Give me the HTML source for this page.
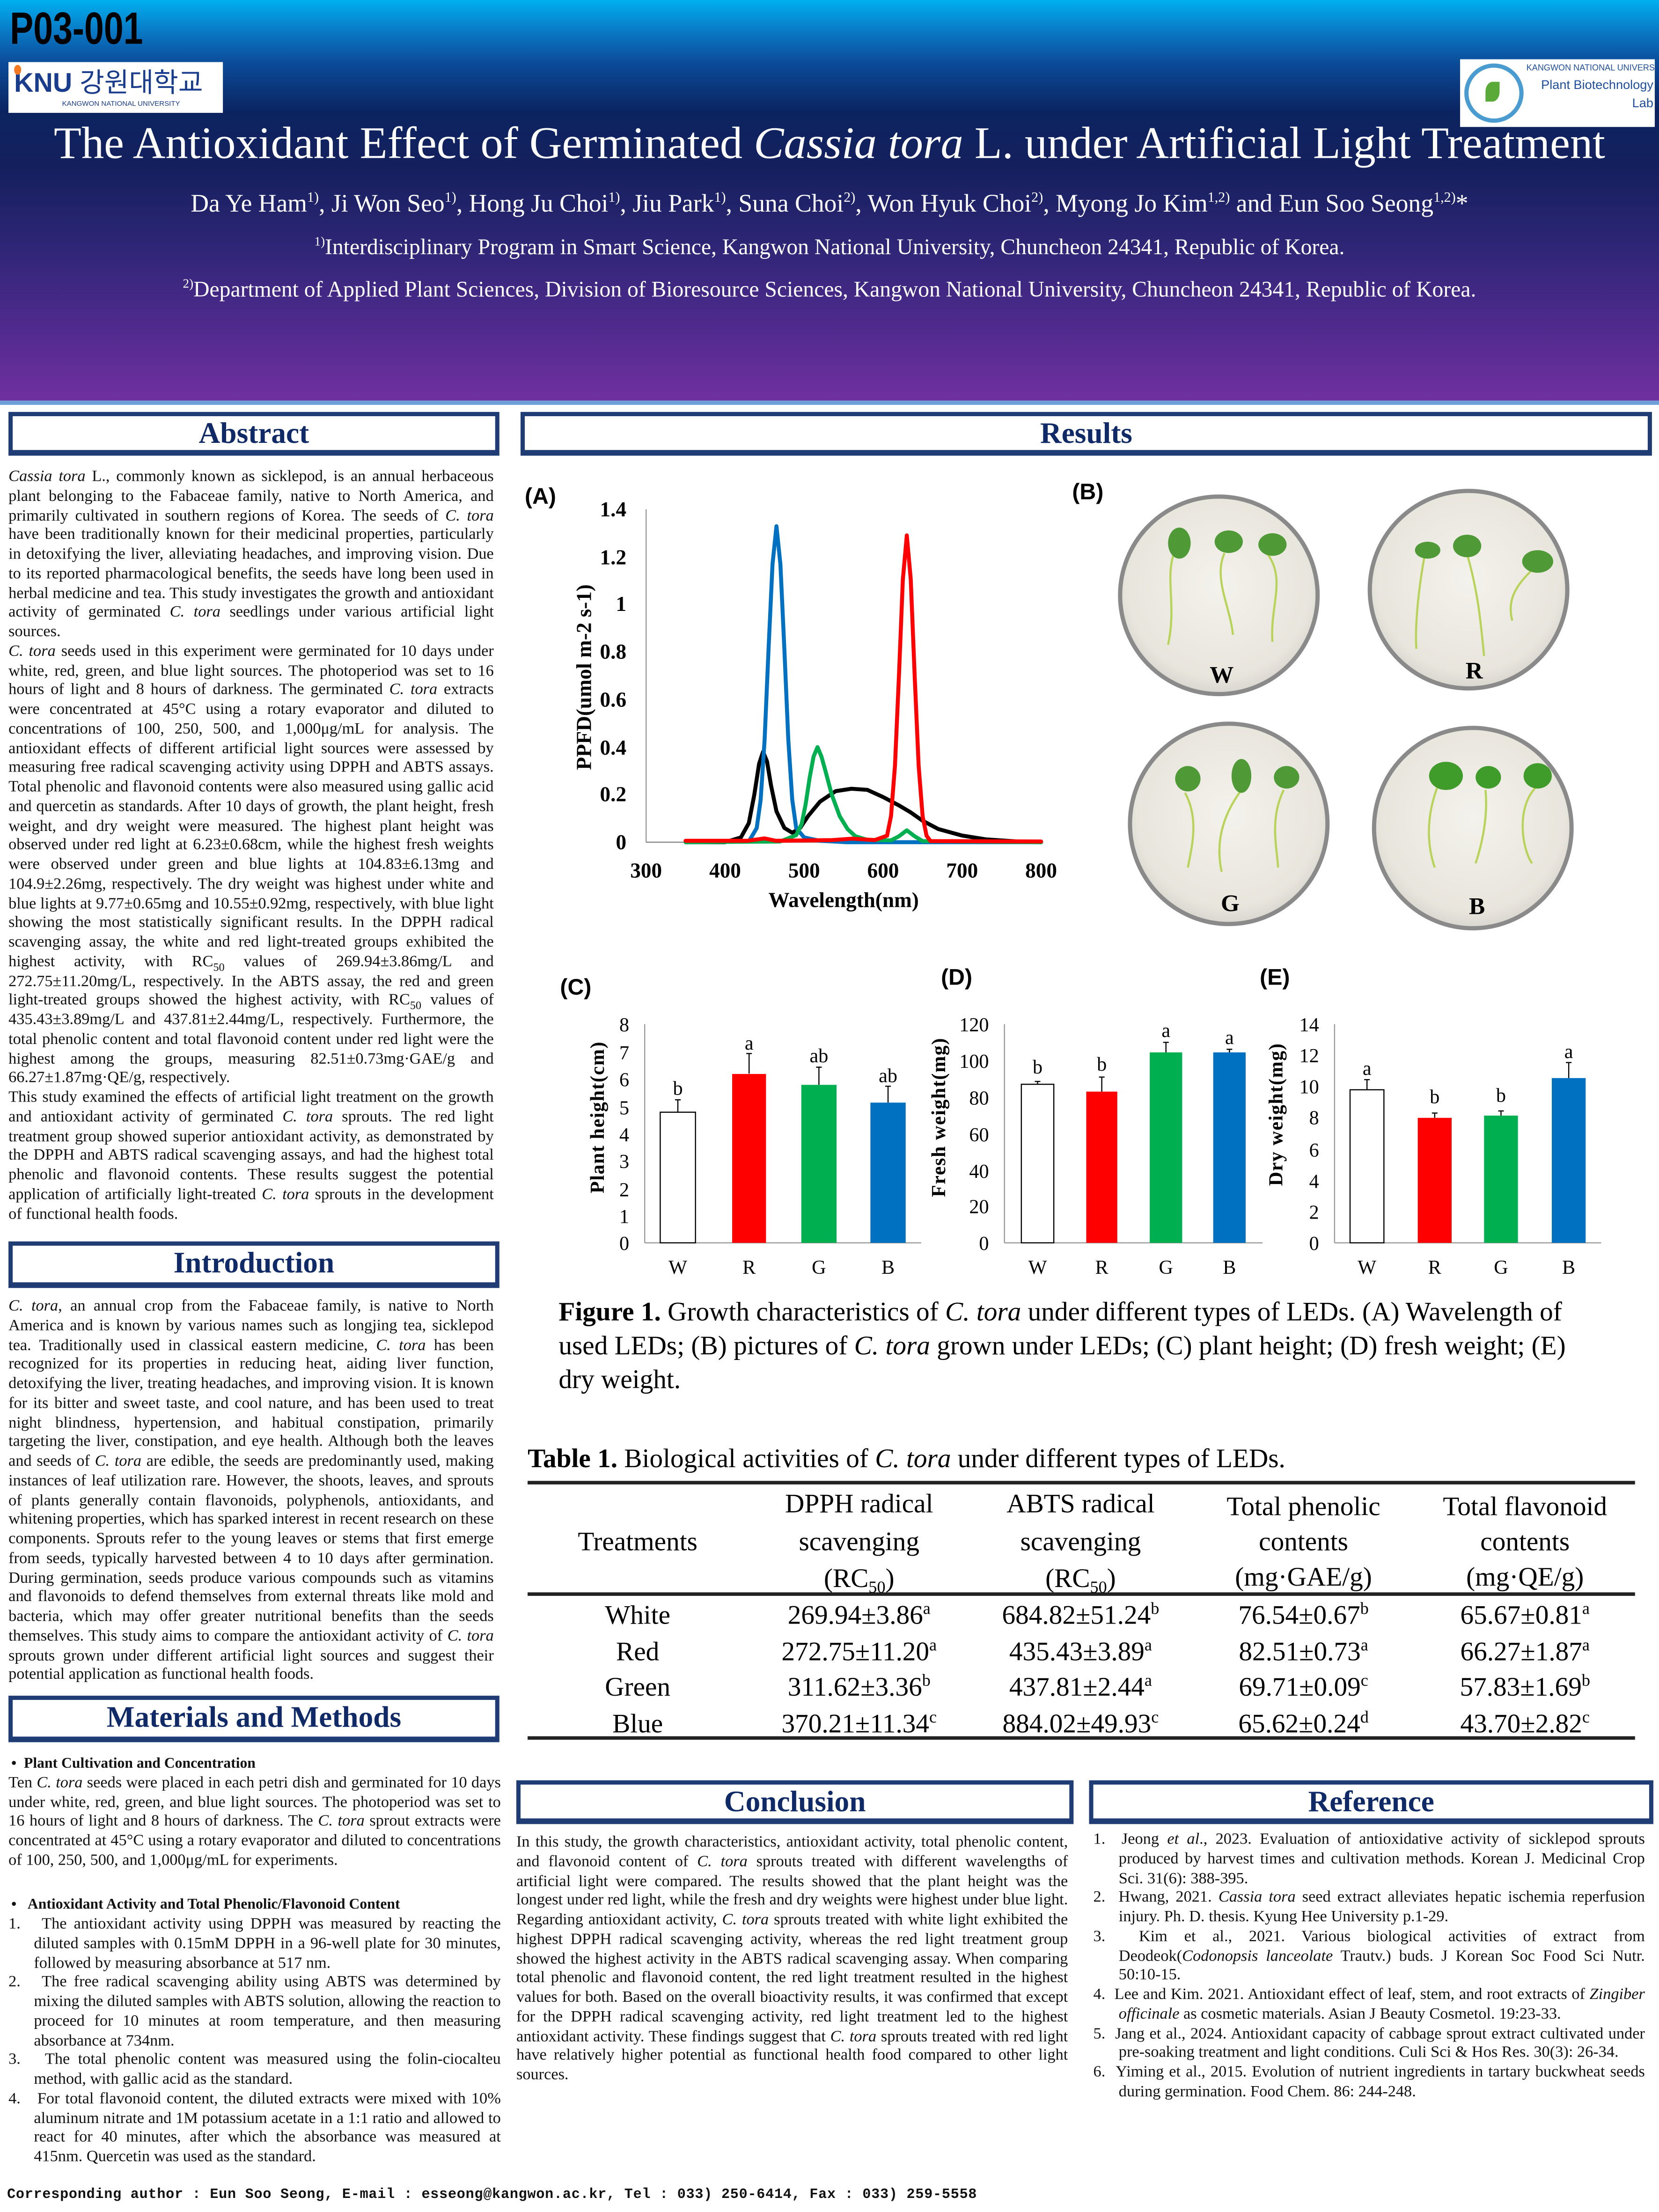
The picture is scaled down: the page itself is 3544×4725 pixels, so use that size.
<!DOCTYPE html>
<html><head><meta charset="utf-8">
<style>
*{margin:0;padding:0;box-sizing:border-box}
html,body{width:3544px;height:4725px;overflow:hidden;background:#fff}
#pg{position:absolute;left:0;top:0;width:1176px;height:1568px;transform:scale(3.01361,3.01339);transform-origin:0 0;font-family:"Liberation Serif",serif;color:#111}
.abs{position:absolute}
.hdr{position:absolute;left:0;top:0;width:1176px;height:287px;background:linear-gradient(to bottom,#00b0f0 0%,#0a78c4 8%,#0b4a98 16%,#0b2460 28%,#15205e 42%,#2c2574 60%,#4d2a8c 80%,#7030a0 100%);border-bottom:3px solid #6f9fd8}
.box{position:absolute;background:#fff;border:3px solid #1f3c74;border-bottom-width:4px;text-align:center;font-weight:bold;color:#0f2a66;font-size:21px;line-height:24px}
.txt{position:absolute;font-size:11.4px;line-height:13.75px;text-align:justify}
.txt p{margin:0}
.ref{padding-left:18px;text-indent:-18px}
</style></head><body>
<div id="pg">
<div class="hdr"></div>
<div class="abs" style="left:7px;top:2px;font-family:'Liberation Sans',sans-serif;font-weight:bold;font-size:32px;line-height:36px;color:#000;transform:scaleX(0.78);transform-origin:0 0">P03-001</div>
<div class="abs" style="left:6px;top:44px;width:152px;height:36px;background:#fff"></div>
<div class="abs" style="left:10px;top:49px;font-family:'Liberation Sans','Noto Sans CJK KR',sans-serif;font-weight:bold;font-size:19px;color:#1a3c8c;line-height:22px">KNU <span style="font-weight:normal">강원대학교</span></div>
<div class="abs" style="left:10px;top:46px;width:5px;height:7px;background:#f47920;border-radius:50%"></div>
<div class="abs" style="left:44px;top:71px;font-family:'Liberation Sans',sans-serif;font-size:5px;color:#1a3c8c">KANGWON NATIONAL UNIVERSITY</div>
<div class="abs" style="left:1035px;top:42px;width:138px;height:48px;background:#fff"></div>
<div class="abs" style="left:1038px;top:45px;width:42px;height:42px;border:3px solid #4a9cd0;border-radius:50%"></div>
<div class="abs" style="left:1053px;top:58px;width:10px;height:14px;background:#5aaa3a;border-radius:50% 0"></div>
<div class="abs" style="left:1082px;top:45px;width:90px;text-align:right;font-family:'Liberation Sans',sans-serif;color:#1f4e9c;line-height:13px;font-size:9px;white-space:nowrap"><div style="font-size:6px;line-height:9px">KANGWON NATIONAL UNIVERSITY</div><div>Plant Biotechnology</div><div>Lab</div></div>
<div class="abs" style="left:0;top:83px;width:1176px;text-align:center;color:#fff;font-size:32px;white-space:nowrap;line-height:36px">The Antioxidant Effect of Germinated <i>Cassia tora</i> L. under Artificial Light Treatment</div>
<div class="abs" style="left:0;top:134px;width:1176px;text-align:center;color:#fff;font-size:17.8px;white-space:nowrap">Da Ye Ham<sup style="font-size:10px">1)</sup>, Ji Won Seo<sup style="font-size:10px">1)</sup>, Hong Ju Choi<sup style="font-size:10px">1)</sup>, Jiu Park<sup style="font-size:10px">1)</sup>, Suna Choi<sup style="font-size:10px">2)</sup>, Won Hyuk Choi<sup style="font-size:10px">2)</sup>, Myong Jo Kim<sup style="font-size:10px">1,2)</sup> and Eun Soo Seong<sup style="font-size:10px">1,2)</sup>*</div>
<div class="abs" style="left:0;top:166px;width:1176px;text-align:center;color:#fff;font-size:15.8px;white-space:nowrap"><sup style="font-size:9px">1)</sup>Interdisciplinary Program in Smart Science, Kangwon National University, Chuncheon 24341, Republic of Korea.</div>
<div class="abs" style="left:0;top:196px;width:1176px;text-align:center;color:#fff;font-size:15.8px;white-space:nowrap"><sup style="font-size:9px">2)</sup>Department of Applied Plant Sciences, Division of Bioresource Sciences, Kangwon National University, Chuncheon 24341, Republic of Korea.</div>

<div class="box" style="left:6px;top:292px;width:348px;height:31px">Abstract</div>
<div class="box" style="left:369px;top:292px;width:802px;height:31px">Results</div>
<div class="box" style="left:6px;top:880px;width:348px;height:33px">Introduction</div>
<div class="box" style="left:6px;top:1202px;width:348px;height:33px">Materials and Methods</div>
<div class="box" style="left:366px;top:1262px;width:395px;height:31px">Conclusion</div>
<div class="box" style="left:772px;top:1262px;width:400px;height:31px">Reference</div>

<div class="txt" style="left:6px;top:332px;width:344px">
<p><i>Cassia tora</i> L., commonly known as sicklepod, is an annual herbaceous plant belonging to the Fabaceae family, native to North America, and primarily cultivated in southern regions of Korea. The seeds of <i>C. tora</i> have been traditionally known for their medicinal properties, particularly in detoxifying the liver, alleviating headaches, and improving vision. Due to its reported pharmacological benefits, the seeds have long been used in herbal medicine and tea. This study investigates the growth and antioxidant activity of germinated <i>C. tora</i> seedlings under various artificial light sources.</p>
<p><i>C. tora</i> seeds used in this experiment were germinated for 10 days under white, red, green, and blue light sources. The photoperiod was set to 16 hours of light and 8 hours of darkness. The germinated <i>C. tora</i> extracts were concentrated at 45°C using a rotary evaporator and diluted to concentrations of 100, 250, 500, and 1,000μg/mL for analysis. The antioxidant effects of different artificial light sources were assessed by measuring free radical scavenging activity using DPPH and ABTS assays. Total phenolic and flavonoid contents were also measured using gallic acid and quercetin as standards. After 10 days of growth, the plant height, fresh weight, and dry weight were measured. The highest plant height was observed under red light at 6.23±0.68cm, while the highest fresh weights were observed under green and blue lights at 104.83±6.13mg and 104.9±2.26mg, respectively. The dry weight was highest under white and blue lights at 9.77±0.65mg and 10.55±0.92mg, respectively, with blue light showing the most statistically significant results. In the DPPH radical scavenging assay, the white and red light-treated groups exhibited the highest activity, with RC<sub style="font-size:8px;line-height:0">50</sub> values of 269.94±3.86mg/L and 272.75±11.20mg/L, respectively. In the ABTS assay, the red and green light-treated groups showed the highest activity, with RC<sub style="font-size:8px;line-height:0">50</sub> values of 435.43±3.89mg/L and 437.81±2.44mg/L, respectively. Furthermore, the total phenolic content and total flavonoid content under red light were the highest among the groups, measuring 82.51±0.73mg·GAE/g and 66.27±1.87mg·QE/g, respectively.</p>
<p>This study examined the effects of artificial light treatment on the growth and antioxidant activity of germinated <i>C. tora</i> sprouts. The red light treatment group showed superior antioxidant activity, as demonstrated by the DPPH and ABTS radical scavenging assays, and had the highest total phenolic and flavonoid contents. These results suggest the potential application of artificially light-treated <i>C. tora</i> sprouts in the development of functional health foods.</p>
</div>

<div class="txt" style="left:6px;top:920px;width:344px">
<p><i>C. tora</i>, an annual crop from the Fabaceae family, is native to North America and is known by various names such as longjing tea, sicklepod tea. Traditionally used in classical eastern medicine, <i>C. tora</i> has been recognized for its properties in reducing heat, aiding liver function, detoxifying the liver, treating headaches, and improving vision. It is known for its bitter and sweet taste, and cool nature, and has been used to treat night blindness, hypertension, and habitual constipation, primarily targeting the liver, constipation, and eye health. Although both the leaves and seeds of <i>C. tora</i> are edible, the seeds are predominantly used, making instances of leaf utilization rare. However, the shoots, leaves, and sprouts of plants generally contain flavonoids, polyphenols, antioxidants, and whitening properties, which has sparked interest in recent research on these components. Sprouts refer to the young leaves or stems that first emerge from seeds, typically harvested between 4 to 10 days after germination. During germination, seeds produce various compounds such as vitamins and flavonoids to defend themselves from external threats like mold and bacteria, which may offer greater nutritional benefits than the seeds themselves. This study aims to compare the antioxidant activity of <i>C. tora</i> sprouts grown under different artificial light sources and suggest their potential application as functional health foods.</p>
</div>

<div class="txt" style="left:6px;top:1244px;width:349px">
<p style="font-weight:bold;padding-left:2px;font-size:10.5px">•&nbsp;&nbsp;Plant Cultivation and Concentration</p>
<p>Ten <i>C. tora</i> seeds were placed in each petri dish and germinated for 10 days under white, red, green, and blue light sources. The photoperiod was set to 16 hours of light and 8 hours of darkness. The <i>C. tora</i> sprout extracts were concentrated at 45°C using a rotary evaporator and diluted to concentrations of 100, 250, 500, and 1,000μg/mL for experiments.</p>
<p>&nbsp;</p>
<p style="font-weight:bold;padding-left:2px;font-size:10.5px;margin-top:4px">•&nbsp;&nbsp;&nbsp;Antioxidant Activity and Total Phenolic/Flavonoid Content</p>
<p class="ref">1.&nbsp;&nbsp;&nbsp;The antioxidant activity using DPPH was measured by reacting the diluted samples with 0.15mM DPPH in a 96-well plate for 30 minutes, followed by measuring absorbance at 517 nm.</p>
<p class="ref">2.&nbsp;&nbsp;&nbsp;The free radical scavenging ability using ABTS was determined by mixing the diluted samples with ABTS solution, allowing the reaction to proceed for 10 minutes at room temperature, and then measuring absorbance at 734nm.</p>
<p class="ref">3.&nbsp;&nbsp;&nbsp;The total phenolic content was measured using the folin-ciocalteu method, with gallic acid as the standard.</p>
<p class="ref">4.&nbsp;&nbsp;&nbsp;For total flavonoid content, the diluted extracts were mixed with 10% aluminum nitrate and 1M potassium acetate in a 1:1 ratio and allowed to react for 40 minutes, after which the absorbance was measured at 415nm. Quercetin was used as the standard.</p>
</div>

<div class="txt" style="left:366px;top:1300px;width:391px">
<p>In this study, the growth characteristics, antioxidant activity, total phenolic content, and flavonoid content of <i>C. tora</i> sprouts treated with different wavelengths of artificial light were compared. The results showed that the plant height was the longest under red light, while the fresh and dry weights were highest under blue light. Regarding antioxidant activity, <i>C. tora</i> sprouts treated with white light exhibited the highest DPPH radical scavenging activity, whereas the red light treatment group showed the highest activity in the ABTS radical scavenging assay. When comparing total phenolic and flavonoid content, the red light treatment resulted in the highest values for both. Based on the overall bioactivity results, it was confirmed that except for the DPPH radical scavenging activity, red light treatment led to the highest antioxidant activity. These findings suggest that <i>C. tora</i> sprouts treated with red light have relatively higher potential as functional health food compared to other light sources.</p>
</div>

<div class="txt" style="left:775px;top:1298px;width:391px">
<p class="ref">1.&nbsp;&nbsp;Jeong <i>et al</i>., 2023. Evaluation of antioxidative activity of sicklepod sprouts produced by harvest times and cultivation methods. Korean J. Medicinal Crop Sci. 31(6): 388-395.</p>
<p class="ref">2.&nbsp;&nbsp;Hwang, 2021. <i>Cassia tora</i> seed extract alleviates hepatic ischemia reperfusion injury. Ph. D. thesis. Kyung Hee University p.1-29.</p>
<p class="ref">3.&nbsp;&nbsp;Kim et al., 2021. Various biological activities of extract from Deodeok(<i>Codonopsis lanceolate</i> Trautv.) buds. J Korean Soc Food Sci Nutr. 50:10-15.</p>
<p class="ref">4.&nbsp;&nbsp;Lee and Kim. 2021. Antioxidant effect of leaf, stem, and root extracts of <i>Zingiber officinale</i> as cosmetic materials. Asian J Beauty Cosmetol. 19:23-33.</p>
<p class="ref">5.&nbsp;&nbsp;Jang et al., 2024. Antioxidant capacity of cabbage sprout extract cultivated under pre-soaking treatment and light conditions. Culi Sci &amp; Hos Res. 30(3): 26-34.</p>
<p class="ref">6.&nbsp;&nbsp;Yiming et al., 2015. Evolution of nutrient ingredients in tartary buckwheat seeds during germination. Food Chem. 86: 244-248.</p>
</div>

<div class="abs" style="left:5px;top:1551px;font-family:'Liberation Mono',monospace;font-weight:bold;font-size:10px;letter-spacing:0.25px;white-space:nowrap">Corresponding author : Eun Soo Seong, E-mail : esseong@kangwon.ac.kr, Tel : 033) 250-6414, Fax : 033) 259-5558</div>

<svg class="abs" style="left:0;top:0" width="1176" height="1568" viewBox="0 0 1176 1568" font-family="Liberation Serif, serif">
<defs><radialGradient id="pl" cx="50%" cy="45%" r="55%"><stop offset="0" stop-color="#f4f2ec"/><stop offset="0.85" stop-color="#e8e5dd"/><stop offset="1" stop-color="#d9d6cf"/></radialGradient></defs>
<text x="372" y="357" font-family="Liberation Sans, sans-serif" font-weight="bold" font-size="16">(A)</text>
<line x1="458" y1="361" x2="458" y2="597" stroke="#999" stroke-width="0.8"/>
<line x1="458" y1="597" x2="738" y2="597" stroke="#888" stroke-width="0.8"/>
<g font-weight="bold" font-size="15" text-anchor="end">
<text x="444" y="602">0</text><text x="444" y="568">0.2</text><text x="444" y="535">0.4</text><text x="444" y="501">0.6</text><text x="444" y="467">0.8</text><text x="444" y="433">1</text><text x="444" y="400">1.2</text><text x="444" y="366">1.4</text></g>
<g font-weight="bold" font-size="15" text-anchor="middle">
<text x="458" y="622">300</text><text x="514" y="622">400</text><text x="570" y="622">500</text><text x="626" y="622">600</text><text x="682" y="622">700</text><text x="738" y="622">800</text></g>
<text x="598" y="643" font-weight="bold" font-size="15" text-anchor="middle">Wavelength(nm)</text>
<text transform="translate(419,480) rotate(-90)" font-weight="bold" font-size="15" text-anchor="middle">PPFD(umol m-2 s-1)</text>
<g fill="none" stroke-width="2.8" stroke-linejoin="round" stroke-linecap="round">
<polyline stroke="#000" points="486,597 514,597 525.2,593.6 530.8,583.5 534.7,563.3 538.1,541.4 540.9,532.9 543.7,539.7 546.5,556.5 550.4,575.1 556,586.9 561.6,590.3 567.2,586.9 572.8,578.5 581.2,568.3 592.4,560.8 603.6,559.1 614.8,559.9 626,565 637.2,570.9 645.6,575.9 654,581.8 665.2,587.7 682,592.3 698.8,595 721.2,596.5 738,597"/>
<polyline stroke="#0070c0" points="486,597 530.8,596.5 536.4,587 539.2,567 542,524.5 544.8,460 547.6,400 550.4,373 553.2,400 556,460 558.8,524.5 561.6,567 564.4,587 570,593.6 581.2,596 600,597 738,597"/>
<polyline stroke="#00b050" points="486,597 553,596.5 564.4,592 568.3,584 571.1,570 573.9,551.5 576.7,536.3 579.5,529.6 582.3,536.3 585.1,546.4 589.6,563.3 595.2,578.5 600.8,587.7 606.4,592.8 614.8,595.3 631.6,595.7 637.2,592.8 642.8,588.6 648.4,592.8 654,596.2 738,597"/>
<polyline stroke="#ff0000" points="486,596 530,596 542,594.3 550,596 590,595.5 604,594.5 620,595.5 628.8,592.4 631.6,578.5 634.4,543 637.2,479.7 640,410.7 642.8,379.5 645.6,410.7 648.4,479.7 651.2,543 654,578.5 656.8,592.4 659.6,596.2 738,596.5"/>
</g>
<text x="760" y="354" font-family="Liberation Sans, sans-serif" font-weight="bold" font-size="16">(B)</text>
<g stroke="#8a8a8a" stroke-width="3" fill="url(#pl)">
<ellipse cx="864" cy="422" rx="70" ry="70"/><ellipse cx="1041" cy="418" rx="70" ry="70"/>
<ellipse cx="871" cy="584" rx="70" ry="71"/><ellipse cx="1044" cy="587" rx="70" ry="71"/></g>
<g stroke="#b8d35a" stroke-width="1.5" fill="none">
<path d="M832,393 C826,410 834,430 828,457"/><path d="M868,392 C860,410 872,430 874,450"/><path d="M898,392 C912,410 900,430 902,455"/>
<path d="M1010,393 C1005,420 1003,445 1004,460"/><path d="M1040,393 C1048,420 1050,445 1052,465"/><path d="M1085,405 C1075,415 1068,425 1072,440"/>
<path d="M840,562 C850,580 845,600 842,615"/><path d="M880,560 C865,580 862,600 866,618"/><path d="M910,560 C900,580 905,600 906,615"/>
<path d="M1020,555 C1010,580 1012,600 1017,615"/><path d="M1053,560 C1055,580 1050,600 1046,612"/><path d="M1090,557 C1075,570 1078,600 1086,612"/></g>
<g fill="#4f9a36">
<ellipse cx="836" cy="385" rx="8" ry="11"/><ellipse cx="871" cy="384" rx="10" ry="8"/><ellipse cx="902" cy="386" rx="10" ry="8"/>
<ellipse cx="1012" cy="390" rx="9" ry="6"/><ellipse cx="1040" cy="387" rx="10" ry="8"/><ellipse cx="1090" cy="398" rx="11" ry="8"/>
<ellipse cx="842" cy="552" rx="9" ry="9"/><ellipse cx="880" cy="550" rx="7" ry="12"/><ellipse cx="912" cy="551" rx="9" ry="8"/>
<ellipse cx="1025" cy="550" rx="12" ry="10" fill="#3f9b2a"/><ellipse cx="1055" cy="551" rx="9" ry="8" fill="#3f9b2a"/><ellipse cx="1090" cy="550" rx="10" ry="9" fill="#3f9b2a"/></g>
<g font-weight="bold" font-size="17" text-anchor="middle"><text x="866" y="484">W</text><text x="1045" y="481">R</text><text x="872" y="646">G</text><text x="1047" y="648">B</text></g>
<g font-family="Liberation Sans, sans-serif" font-weight="bold" font-size="16"><text x="397" y="705">(C)</text><text x="667" y="698">(D)</text><text x="893" y="698">(E)</text></g>
<g stroke="#999" stroke-width="0.8"><line x1="457" y1="726" x2="457" y2="881"/><line x1="457" y1="881" x2="653" y2="881"/>
<line x1="712" y1="726" x2="712" y2="881"/><line x1="712" y1="881" x2="895" y2="881"/>
<line x1="946" y1="726" x2="946" y2="881"/><line x1="946" y1="881" x2="1135" y2="881"/></g>
<g font-size="14" text-anchor="end">
<text x="446" y="886">0</text><text x="446" y="867">1</text><text x="446" y="848">2</text><text x="446" y="828">3</text><text x="446" y="809">4</text><text x="446" y="790">5</text><text x="446" y="770">6</text><text x="446" y="751">7</text><text x="446" y="731">8</text>
<text x="701" y="886">0</text><text x="701" y="860">20</text><text x="701" y="835">40</text><text x="701" y="809">60</text><text x="701" y="783">80</text><text x="701" y="757">100</text><text x="701" y="731">120</text>
<text x="935" y="886">0</text><text x="935" y="864">2</text><text x="935" y="842">4</text><text x="935" y="820">6</text><text x="935" y="797">8</text><text x="935" y="775">10</text><text x="935" y="753">12</text><text x="935" y="731">14</text></g>
<g font-weight="bold" font-size="14" text-anchor="middle" letter-spacing="0.5">
<text transform="translate(428,792) rotate(-90)">Plant height(cm)</text>
<text transform="translate(670,792) rotate(-90)">Fresh weight(mg)</text>
<text transform="translate(909,790) rotate(-90)">Dry weight(mg)</text></g>
<g stroke="#000" stroke-width="0.8">
<rect x="468" y="788.4" width="25" height="92.6" fill="#fff"/><rect x="519" y="761.3" width="24" height="119.7" fill="#ff0000" stroke="none"/><rect x="568" y="769" width="25" height="112" fill="#00b050" stroke="none"/><rect x="617" y="781.6" width="25" height="99.4" fill="#0070c0" stroke="none"/>
<rect x="724" y="768.6" width="23" height="112.4" fill="#fff"/><rect x="770" y="773.8" width="22" height="107.2" fill="#ff0000" stroke="none"/><rect x="815" y="746" width="23" height="135" fill="#00b050" stroke="none"/><rect x="860" y="746" width="23" height="135" fill="#0070c0" stroke="none"/>
<rect x="957" y="772.5" width="24" height="108.5" fill="#fff"/><rect x="1005" y="792.4" width="24" height="88.6" fill="#ff0000" stroke="none"/><rect x="1052" y="790.8" width="24" height="90.2" fill="#00b050" stroke="none"/><rect x="1100" y="764.2" width="24" height="116.8" fill="#0070c0" stroke="none"/>
<path d="M480.5,788 V779.6 M478.5,779.6 h4 M531,761 V746.8 M529,746.8 h4 M580.5,769 V756.5 M578.5,756.5 h4 M629.5,781.6 V770 M627.5,770 h4 M735.5,768.6 V766.6 M733.5,766.6 h4 M781,773.8 V763.5 M779,763.5 h4 M826.5,746 V738.9 M824.5,738.9 h4 M871.5,746 V743.8 M869.5,743.8 h4 M969,772.5 V765.3 M967,765.3 h4 M1017,792.4 V789 M1015,789 h4 M1064,790.8 V787.5 M1062,787.5 h4 M1112,764.2 V753.2 M1110,753.2 h4" fill="none"/></g>
<g font-size="14" text-anchor="middle">
<text x="480.5" y="776">b</text><text x="531" y="744">a</text><text x="580.5" y="753">ab</text><text x="629.5" y="767">ab</text>
<text x="735.5" y="761">b</text><text x="781" y="759">b</text><text x="826.5" y="735">a</text><text x="871.5" y="740">a</text>
<text x="969" y="762">a</text><text x="1017" y="782">b</text><text x="1064" y="781">b</text><text x="1112" y="750">a</text>
<text x="480.5" y="903">W</text><text x="531" y="903">R</text><text x="580.5" y="903">G</text><text x="629.5" y="903">B</text>
<text x="735.5" y="903">W</text><text x="781" y="903">R</text><text x="826.5" y="903">G</text><text x="871.5" y="903">B</text>
<text x="969" y="903">W</text><text x="1017" y="903">R</text><text x="1064" y="903">G</text><text x="1112" y="903">B</text></g>
<g font-size="19"><text x="396" y="936"><tspan font-weight="bold">Figure 1.</tspan> Growth characteristics of <tspan font-style="italic">C. tora</tspan> under different types of LEDs. (A) Wavelength of</text>
<text x="396" y="960">used LEDs; (B) pictures of <tspan font-style="italic">C. tora</tspan> grown under LEDs; (C) plant height; (D) fresh weight; (E)</text>
<text x="396" y="984">dry weight.</text>
<text x="374" y="1040"><tspan font-weight="bold">Table 1.</tspan> Biological activities of <tspan font-style="italic">C. tora</tspan> under different types of LEDs.</text></g>
<g stroke="#222"><line x1="374" y1="1051" x2="1159" y2="1051" stroke-width="2.5"/><line x1="374" y1="1130" x2="1159" y2="1130" stroke-width="2.5"/><line x1="374" y1="1232" x2="1159" y2="1232" stroke-width="2.5"/></g>
<g font-size="19" text-anchor="middle">
<text x="452" y="1099">Treatments</text>
<text x="609" y="1072">DPPH radical</text><text x="609" y="1099">scavenging</text><text x="609" y="1125">(RC<tspan font-size="12" dy="4">50</tspan><tspan dy="-4">)</tspan></text>
<text x="766" y="1072">ABTS radical</text><text x="766" y="1099">scavenging</text><text x="766" y="1125">(RC<tspan font-size="12" dy="4">50</tspan><tspan dy="-4">)</tspan></text>
<text x="924" y="1074">Total phenolic</text><text x="924" y="1099">contents</text><text x="924" y="1124">(mg·GAE/g)</text>
<text x="1081" y="1074">Total flavonoid</text><text x="1081" y="1099">contents</text><text x="1081" y="1124">(mg·QE/g)</text>
<text x="452" y="1151">White</text><text x="452" y="1177">Red</text><text x="452" y="1202">Green</text><text x="452" y="1228">Blue</text>
<text x="609" y="1151">269.94±3.86<tspan font-size="12" dy="-7">a</tspan></text>
<text x="609" y="1177">272.75±11.20<tspan font-size="12" dy="-7">a</tspan></text>
<text x="609" y="1202">311.62±3.36<tspan font-size="12" dy="-7">b</tspan></text>
<text x="609" y="1228">370.21±11.34<tspan font-size="12" dy="-7">c</tspan></text>
<text x="766" y="1151">684.82±51.24<tspan font-size="12" dy="-7">b</tspan></text>
<text x="766" y="1177">435.43±3.89<tspan font-size="12" dy="-7">a</tspan></text>
<text x="766" y="1202">437.81±2.44<tspan font-size="12" dy="-7">a</tspan></text>
<text x="766" y="1228">884.02±49.93<tspan font-size="12" dy="-7">c</tspan></text>
<text x="924" y="1151">76.54±0.67<tspan font-size="12" dy="-7">b</tspan></text>
<text x="924" y="1177">82.51±0.73<tspan font-size="12" dy="-7">a</tspan></text>
<text x="924" y="1202">69.71±0.09<tspan font-size="12" dy="-7">c</tspan></text>
<text x="924" y="1228">65.62±0.24<tspan font-size="12" dy="-7">d</tspan></text>
<text x="1081" y="1151">65.67±0.81<tspan font-size="12" dy="-7">a</tspan></text>
<text x="1081" y="1177">66.27±1.87<tspan font-size="12" dy="-7">a</tspan></text>
<text x="1081" y="1202">57.83±1.69<tspan font-size="12" dy="-7">b</tspan></text>
<text x="1081" y="1228">43.70±2.82<tspan font-size="12" dy="-7">c</tspan></text></g>
</svg>
</div>
</body></html>
